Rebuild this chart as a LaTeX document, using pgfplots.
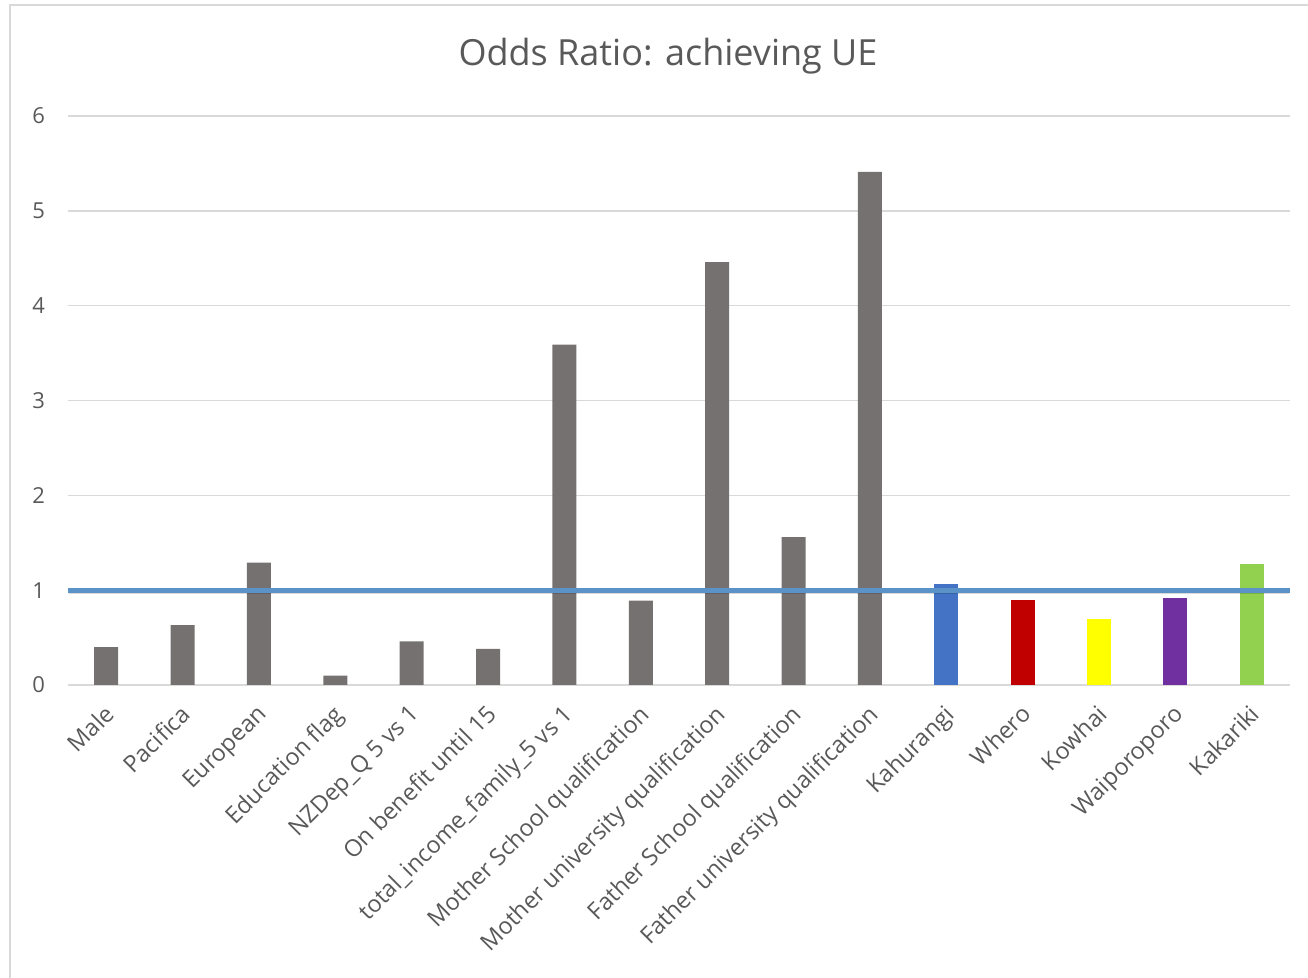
\documentclass[border=0pt]{standalone}
\usepackage{fontspec}
\setmainfont{Open Sans}
\usepackage{pgfplots}
\pgfplotsset{compat=1.18}
\definecolor{txt}{HTML}{595959}
\definecolor{gridc}{HTML}{D9D9D9}
\definecolor{barg}{HTML}{767171}
\definecolor{kahurangi}{HTML}{4472C4}
\definecolor{whero}{HTML}{C00000}
\definecolor{kowhai}{HTML}{FFFF00}
\definecolor{waipo}{HTML}{7030A0}
\definecolor{kakariki}{HTML}{92D050}
\definecolor{refline}{HTML}{5B93C8}
\begin{document}
\begin{tikzpicture}
\useasboundingbox (0,0) rectangle (654pt,489pt);
\draw[gridc, line width=1.2pt] (5pt,-10pt) -- (5pt,486.5pt) -- (670pt,486.5pt);
\node[txt, font=\fontsize{18}{21}\selectfont] at (334pt,461pt) {Odds Ratio: achieving UE};
\begin{axis}[
    at={(34pt,146.5pt)}, anchor=south west,
    scale only axis,
    width=611pt, height=284.5pt,
    xmin=-0.5, xmax=15.5,
    ymin=0, ymax=6,
    ytick={0,1,2,3,4,5,6},
    xtick={0,...,15},
    xticklabels={Male, Pacifica, European, Education flag, NZDep\_Q 5 vs 1,
        On benefit until 15, total\_income\_family\_5 vs 1,
        Mother School qualification, Mother university qualification,
        Father School qualification, Father university qualification,
        Kahurangi, Whero, Kowhai, Waiporoporo, Kakariki},
    x tick label style={rotate=45, anchor=north east, inner sep=1pt, yshift=-4.1pt, xshift=-6.4pt,
        font=\fontsize{11.75}{13}\selectfont},
    y tick label style={font=\fontsize{11}{13}\selectfont, xshift=-8pt},
    tick label style={text=txt},
    /pgf/number format/assume math mode=true,
    major tick length=0pt,
    axis line style={draw=none},
    ymajorgrids,
    grid style={gridc, line width=0.8pt},
    ybar, bar width=12pt, bar shift=0pt,
    clip=false,
]
\addplot[fill=barg, draw=none] coordinates {
    (0,0.40) (1,0.63) (2,1.29) (3,0.10) (4,0.46) (5,0.38) (6,3.59)
    (7,0.89) (8,4.46) (9,1.56) (10,5.41)};
\addplot[fill=kahurangi, draw=none] coordinates {(11,1.07)};
\addplot[fill=whero, draw=none] coordinates {(12,0.90)};
\addplot[fill=kowhai, draw=none] coordinates {(13,0.70)};
\addplot[fill=waipo, draw=none] coordinates {(14,0.92)};
\addplot[fill=kakariki, draw=none] coordinates {(15,1.28)};
\addplot[sharp plot, black, opacity=0.15, line width=2.5pt, forget plot] coordinates {(-0.49,0.985) (15.49,0.985)};
\addplot[sharp plot, refline, line width=2.5pt] coordinates {(-0.5,1) (15.5,1)};
\end{axis}
\end{tikzpicture}
\end{document}
